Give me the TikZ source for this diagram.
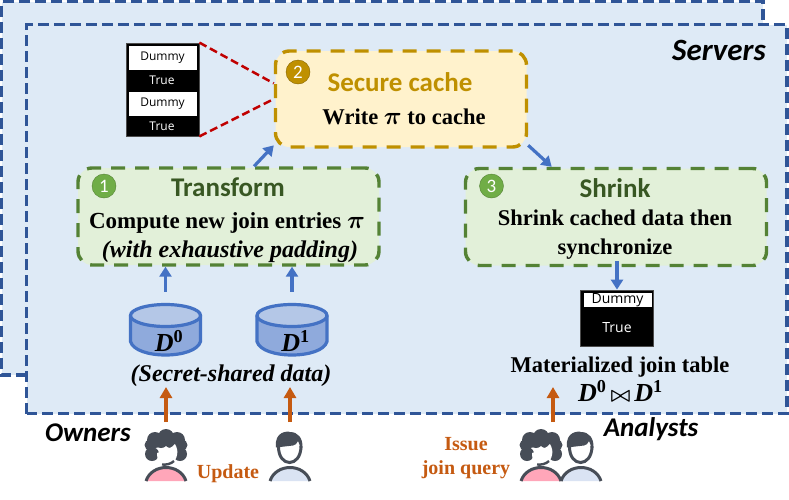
\documentclass[tikz,border=0pt]{standalone}
\usepackage{amssymb}
\usepackage{amsmath}
\usepackage{fontspec}
\setmainfont{Liberation Serif}
\newfontfamily\calibri{Carlito}
\newfontfamily\cellfont{Open Sans}
\usetikzlibrary{arrows.meta}
\usetikzlibrary{positioning}
\definecolor{serverfill}{HTML}{DEEAF6}
\definecolor{serverline}{HTML}{2F5597}
\definecolor{cachefill}{HTML}{FFF2CC}
\definecolor{cacheline}{HTML}{BF9000}
\definecolor{stepfill}{HTML}{E2F0D9}
\definecolor{stepline}{HTML}{548235}
\definecolor{steptitle}{HTML}{385723}
\definecolor{stepdot}{HTML}{70AD47}
\definecolor{flowblue}{HTML}{4472C4}
\definecolor{floworange}{HTML}{C55A11}
\definecolor{linkred}{HTML}{C00000}
\definecolor{cylbody}{HTML}{8FAADC}
\definecolor{cyltop}{HTML}{B4C7E7}
\definecolor{persondark}{HTML}{474D57}
\definecolor{womanpink}{HTML}{FFA6B9}
\definecolor{manblue}{HTML}{DAE3F3}
\newcommand{\dvar}[1]{{\bfseries\itshape D}\textsuperscript{\bfseries\upshape #1}}
\newcommand{\bigpi}{{\fontsize{27}{27}\selectfont$\pi$}}
\tikzset{
  serverdash/.style={draw=serverline,line width=3.4pt,dash pattern=on 11pt off 5pt},
  stepbox/.style={rectangle,rounded corners=14pt,line width=3.4pt,dash pattern=on 14pt off 10pt,inner sep=0pt},
  numdot/.style={circle,minimum size=24pt,inner sep=0pt,text=white,font=\calibri\fontsize{19}{19}\selectfont},
  titletext/.style={inner sep=0pt,font=\calibri\bfseries\fontsize{27}{27}\selectfont},
  bodytext/.style={inner sep=0pt,align=center,font=\bfseries\fontsize{22.5}{29}\selectfont},
  slanttext/.style={inner sep=0pt,font=\bfseries\itshape\fontsize{24}{29}\selectfont},
  mathtext/.style={inner sep=0pt,font=\fontsize{26}{26}\selectfont},
  tablebox/.style={rectangle,fill=black,draw=black!70,line width=.8pt,minimum width=73pt,inner sep=0pt},
  dummycell/.style={rectangle,fill=white,minimum width=68pt,inner sep=0pt,font=\cellfont\fontsize{12}{12}\selectfont},
  truecell/.style={inner sep=0pt,text=white,font=\cellfont\fontsize{12}{12}\selectfont},
  dbnode/.style={rectangle,minimum width=73pt,minimum height=55pt,inner sep=0pt},
  rolename/.style={inner sep=0pt,font=\calibri\bfseries\itshape\fontsize{27}{27}\selectfont},
  actiontext/.style={inner sep=0pt,align=center,text=floworange,font=\bfseries\fontsize{20}{24.5}\selectfont},
  bluearrow/.style={-{Triangle[width=12pt,length=10pt]},draw=flowblue,fill=flowblue,line width=3.2pt},
  orangearrow/.style={-{Triangle[width=12pt,length=11pt]},draw=floworange,fill=floworange,line width=3.2pt},
  redlink/.style={draw=linkred,line width=2.5pt,dash pattern=on 8pt off 4pt},
  dbpic/.pic={
    \fill[cylbody] (-35,0) -- (-35,26) .. controls (-30,44) and (30,44) .. (35,26) -- (35,0) -- cycle;
    \draw[flowblue,line width=3.2pt] (-35,0) -- (-35,26) .. controls (-30,44) and (30,44) .. (35,26) -- (35,0);
    \draw[flowblue,fill=cyltop,line width=3.2pt] (0,0) ellipse[x radius=35pt,y radius=11pt];
  },
  bodypic/.pic={
    \fill[#1] (-20,50) .. controls (-14,32) and (14,32) .. (20,50) -- cycle;
    \draw[persondark,line width=3pt] (-20,50) .. controls (-14,32) and (14,32) .. (20,50);
  },
  womanpic/.pic={
    \fill[persondark] (0,6) circle[radius=8pt] (-11,9) circle[radius=8pt] (11,9) circle[radius=8pt]
      (-14,23) circle[radius=7pt] (14,23) circle[radius=7pt] (-16,14) circle[radius=5.5pt] (16,14) circle[radius=5.5pt]
      (-5,10) circle[radius=7pt] (5,10) circle[radius=7pt];
    \fill[white] (-9,22) .. controls (-2,20) and (6,17) .. (9,13) .. controls (11,17) and (12,20) .. (11,24)
      .. controls (10,32) and (0,36) .. (-4,36) -- (-8,36) -- cycle;
    \draw[persondark,line width=2.4pt] (-4,33.5) .. controls (0,34) and (5,33) .. (8,30);
    \pic {bodypic=womanpink};
  },
  manpic/.pic={
    \draw[persondark,line width=3pt] (-11.5,15) .. controls (-12,37) and (11,37) .. (11,15);
    \fill[persondark] (-14,16.5) .. controls (-16,0) and (-2,0) .. (0,1) .. controls (8,1) and (13,7) .. (12.5,17)
      -- (10,17) .. controls (10,14) and (9,12) .. (8,10) .. controls (7,13) and (5,14) .. (3,14.5) -- cycle;
    \pic {bodypic=manblue};
  }
}
\begin{document}
\boldmath
\begin{tikzpicture}[x=1pt,y=-1pt]
  \useasboundingbox (0,0) rectangle (789,499);
  % server regions
  \fill[serverfill] (1.5,1.5) rectangle (763,375);
  \draw[serverdash] (27,375) -- (1.5,375) -- (1.5,1.5) -- (763,1.5) -- (763,24.7);
  \fill[serverfill] (26.7,24.7) rectangle (787,413.5);
  \draw[serverdash] (26.7,413.5) -- (26.7,24.7) -- (787,24.7) -- (787,413.5) -- cycle;
  \node[rolename,font=\calibri\bfseries\itshape\fontsize{31}{31}\selectfont] (servers) at (719,50){Servers};

  % steps
  \node[stepbox,draw=cacheline,fill=cachefill,minimum width=251pt,minimum height=96pt] (cache) at (401,99){};
  \node[stepbox,draw=stepline,fill=stepfill,minimum width=301pt,minimum height=97pt] (transform) at (228.5,216.5){};
  \node[stepbox,draw=stepline,fill=stepfill,minimum width=301pt,minimum height=97pt] (shrink) at (616,217){};
  \node[numdot,fill=stepdot,draw=stepline] (numA) at (104,186){1};
  \node[numdot,fill=cacheline,draw=cacheline!70!black] (numB) at (298,72){2};
  \node[numdot,fill=stepdot,draw=stepline] (numC) at (491.5,186){3};
  \node[titletext,text=cacheline] (cachetitle) at (400,82){Secure cache};
  \node[titletext,text=steptitle] (transformtitle) at (228,187){Transform};
  \node[titletext,text=steptitle] (shrinktitle) at (615,188){Shrink};
  \node[bodytext] (cachebody) at (404,117){Write \bigpi{} to cache};
  \node[bodytext,font=\bfseries\fontsize{23}{29}\selectfont] (transformbody) at (227,223){Compute new join entries \bigpi};
  \node[slanttext] (paddingnote) at (230,252){(with exhaustive padding)};
  \node[bodytext] (shrinkbody) at (615,235){Shrink cached data then\\synchronize};

  % tables
  \node[tablebox,minimum height=93pt] (stackA) at (162.5,89.5){};
  \node[dummycell,minimum height=24pt] (dummyA) at (162.5,58){Dummy};
  \node[truecell] (trueA) at (162,80.5){True};
  \node[dummycell,minimum height=24pt] (dummyB) at (162.5,103.5){Dummy};
  \node[truecell] (trueB) at (162,126.5){True};
  \node[tablebox,minimum height=56pt] (stackC) at (617,318){};
  \node[dummycell,minimum height=14pt,font=\cellfont\fontsize{14}{14}\selectfont] (dummyC) at (617.5,300){Dummy};
  \node[truecell,font=\cellfont\fontsize{14}{14}\selectfont] (trueC) at (617,327.5){True};

  % data
  \node[dbnode] (dzero) at (165.5,329.5){};
  \node[dbnode] (done) at (292,329.5){};
  \pic at (dzero.center |- 0,315.5) {dbpic};
  \pic at (done.center |- 0,315.5) {dbpic};
  \node[mathtext] (dzerolabel) at (169,341){\dvar{0}};
  \node[mathtext] (donelabel) at (295.5,341){\dvar{1}};
  \node[slanttext] (secretnote) at (231,376){(Secret-shared data)};
  \node[bodytext] (jointable) at (620,367){Materialized join table};
  \node[mathtext] (joinformula) at (620.5,391){\dvar{0}\hspace{4pt}{\fontsize{20}{20}\selectfont$\bowtie$}\hspace{4pt}\dvar{1}};

  % people
  \pic at (166,431) {womanpic};
  \pic at (290,431) {manpic};
  \pic at (581,431) {manpic};
  \pic at (541,431) {womanpic};
  \node[rolename] (owners) at (88,433){Owners};
  \node[rolename] (analysts) at (651,429){Analysts};
  \node[actiontext] (update) at (228,474){Update};
  \node[actiontext] (issue) at (466,458){Issue\\join query};

  \coordinate (ownerA) at (166,422);
  \coordinate (ownerB) at (290,422);
  \coordinate (analyst) at (553,422);
  \coordinate (tipA) at (166,387);
  \coordinate (tipB) at (290,387);
  \coordinate (tipC) at (553,387);

  \draw[redlink](stackA.north east)--(cache.173);
  \draw[redlink](stackA.south east)--(cache.180);
  \draw[bluearrow](transform.63)--(cache.200);
  \draw[bluearrow](cache.-20)--(shrink.142);
  \draw[bluearrow,shorten <=10pt](dzero.north)--(dzero.north |- transform.south);
  \draw[bluearrow,shorten <=10pt](done.north)--(done.north |- transform.south);
  \draw[bluearrow,xshift=1pt,shorten <=-6pt](shrink.south -| stackC.north)--(stackC.north);
  \draw[orangearrow](ownerA)--(tipA);
  \draw[orangearrow](ownerB)--(tipB);
  \draw[orangearrow](analyst)--(tipC);
\end{tikzpicture}
\end{document}
